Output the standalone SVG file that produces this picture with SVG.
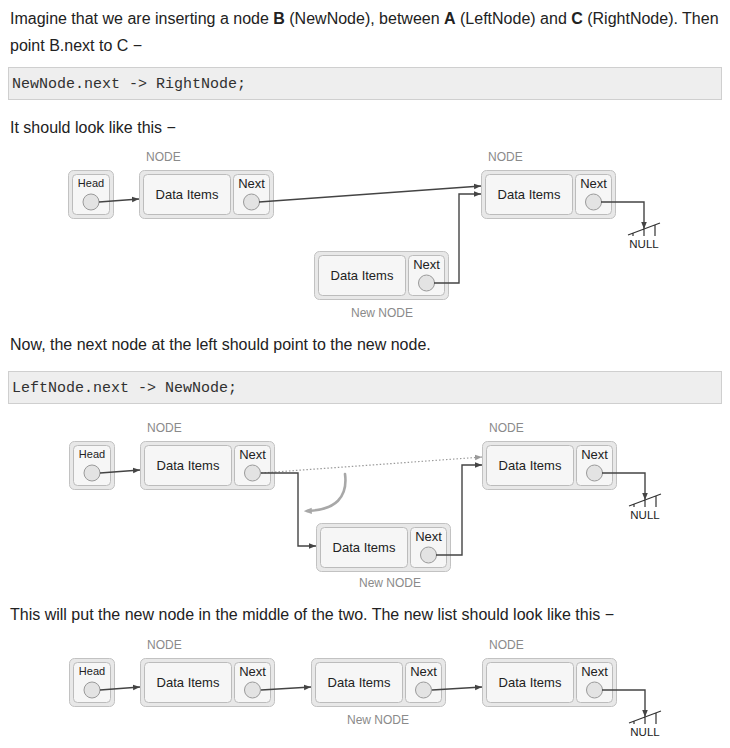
<svg xmlns="http://www.w3.org/2000/svg" width="730" height="748" viewBox="0 0 730 748">
<defs>
<style>
.p{font-family:"Liberation Sans",Arial,sans-serif;font-size:16px;fill:#222}
.code{font-family:"Liberation Mono","Courier New",monospace;font-size:15px;fill:#313131}
.cbox{fill:#eeeeee;stroke:#cfcfcf;stroke-width:1}
.outer{fill:#e8e8e8;stroke:#c2c2c2;stroke-width:1}
.inner{fill:#f6f6f6;stroke:#bcbcbc;stroke-width:1}
.dot{fill:#e3e3e3;stroke:#9a9a9a;stroke-width:1}
.t13{font-family:"Liberation Sans",Arial,sans-serif;font-size:13px;fill:#222;text-anchor:middle}
.t11{font-family:"Liberation Sans",Arial,sans-serif;font-size:11px;fill:#222;text-anchor:middle}
.lab{font-family:"Liberation Sans",Arial,sans-serif;font-size:12px;fill:#8a8a8a}
.null{font-family:"Liberation Sans",Arial,sans-serif;font-size:11.5px;fill:#222;text-anchor:middle}
.ln{fill:none;stroke:#444;stroke-width:1.4}
.dotted{fill:none;stroke:#9a9a9a;stroke-width:1.2;stroke-dasharray:1.5 2}
.gnd{fill:none;stroke:#333;stroke-width:1.2}
.curve{fill:none;stroke:#a8a8a8;stroke-width:2.6;stroke-linecap:round}
</style>
<marker id="ah" viewBox="0 0 10 10" refX="10" refY="5" markerWidth="7" markerHeight="7" markerUnits="userSpaceOnUse" orient="auto">
<path d="M0,1 L10,5 L0,9 Z" fill="#444"/>
</marker>
<marker id="ahg" viewBox="0 0 10 10" refX="10" refY="5" markerWidth="7" markerHeight="7" markerUnits="userSpaceOnUse" orient="auto">
<path d="M0,1 L10,5 L0,9 Z" fill="#9a9a9a"/>
</marker>
<marker id="ahc" viewBox="0 0 10 10" refX="6" refY="5" markerWidth="8" markerHeight="8" markerUnits="userSpaceOnUse" orient="auto">
<path d="M0,1 L10,5 L0,9 Z" fill="#a8a8a8"/>
</marker>
</defs>
<rect width="730" height="748" fill="#ffffff"/>

<g id="texts">
<text class="p" x="10" y="24">Imagine that we are inserting a node <tspan font-weight="bold">B</tspan> (NewNode), between <tspan font-weight="bold">A</tspan> (LeftNode) and <tspan font-weight="bold">C</tspan> (RightNode). Then</text>
<text class="p" x="10" y="51">point B.next to C −</text>
<rect class="cbox" x="8.5" y="67.5" width="713" height="32"/>
<text class="code" x="12" y="88">NewNode.next -&gt; RightNode;</text>
<text class="p" x="10" y="133">It should look like this −</text>
<text class="p" x="10" y="350">Now, the next node at the left should point to the new node.</text>
<rect class="cbox" x="8.5" y="371.5" width="713" height="32"/>
<text class="code" x="12" y="392">LeftNode.next -&gt; NewNode;</text>
<text class="p" x="10" y="620">This will put the new node in the middle of the two. The new list should look like this −</text>
</g>

<!-- Diagram 1 -->
<g id="d1-head" transform="translate(68,170)">
<rect class="outer" x="0.5" y="0.5" width="45" height="48" rx="5"/>
<rect class="inner" x="4.5" y="4.5" width="37" height="40" rx="4"/>
<text class="t11" x="23" y="17">Head</text>
<circle class="dot" cx="23" cy="32" r="8"/>
</g>
<g id="d1-left" transform="translate(139,170)">
<text class="lab" x="7" y="-9">NODE</text>
<rect class="outer" x="0.5" y="0.5" width="134" height="48" rx="5"/>
<rect class="inner" x="4.5" y="4.5" width="87" height="40" rx="4"/>
<rect class="inner" x="94.5" y="4.5" width="36" height="40" rx="4"/>
<text class="t13" x="48" y="28.5">Data Items</text>
<text class="t13" x="112.5" y="17.5">Next</text>
<circle class="dot" cx="112.5" cy="32" r="8"/>
</g>
<g id="d1-right" transform="translate(481,170)">
<text class="lab" x="7" y="-9">NODE</text>
<rect class="outer" x="0.5" y="0.5" width="134" height="48" rx="5"/>
<rect class="inner" x="4.5" y="4.5" width="87" height="40" rx="4"/>
<rect class="inner" x="94.5" y="4.5" width="36" height="40" rx="4"/>
<text class="t13" x="48" y="28.5">Data Items</text>
<text class="t13" x="112.5" y="17.5">Next</text>
<circle class="dot" cx="112.5" cy="32" r="8"/>
</g>
<g id="d1-new" transform="translate(314,251)">
<rect class="outer" x="0.5" y="0.5" width="134" height="48" rx="5"/>
<rect class="inner" x="4.5" y="4.5" width="87" height="40" rx="4"/>
<rect class="inner" x="94.5" y="4.5" width="36" height="40" rx="4"/>
<text class="t13" x="48" y="28.5">Data Items</text>
<text class="t13" x="112.5" y="17.5">Next</text>
<circle class="dot" cx="112.5" cy="32" r="8"/>
<text class="lab" x="68" y="66" text-anchor="middle">New NODE</text>
</g>
<g id="d1-null">
<path class="gnd" d="M628,235 L660,223 M633,233.1 V236 M644,229 V236 M655,224.9 V236"/>
<text class="null" x="644" y="248">NULL</text>
</g>

<!-- Diagram 2 -->
<g id="d2-head" transform="translate(69,441)">
<rect class="outer" x="0.5" y="0.5" width="45" height="48" rx="5"/>
<rect class="inner" x="4.5" y="4.5" width="37" height="40" rx="4"/>
<text class="t11" x="23" y="17">Head</text>
<circle class="dot" cx="23" cy="32" r="8"/>
</g>
<g id="d2-left" transform="translate(140,441)">
<text class="lab" x="7" y="-9">NODE</text>
<rect class="outer" x="0.5" y="0.5" width="134" height="48" rx="5"/>
<rect class="inner" x="4.5" y="4.5" width="87" height="40" rx="4"/>
<rect class="inner" x="94.5" y="4.5" width="36" height="40" rx="4"/>
<text class="t13" x="48" y="28.5">Data Items</text>
<text class="t13" x="112.5" y="17.5">Next</text>
<circle class="dot" cx="112.5" cy="32" r="8"/>
</g>
<g id="d2-right" transform="translate(482,441)">
<text class="lab" x="7" y="-9">NODE</text>
<rect class="outer" x="0.5" y="0.5" width="134" height="48" rx="5"/>
<rect class="inner" x="4.5" y="4.5" width="87" height="40" rx="4"/>
<rect class="inner" x="94.5" y="4.5" width="36" height="40" rx="4"/>
<text class="t13" x="48" y="28.5">Data Items</text>
<text class="t13" x="112.5" y="17.5">Next</text>
<circle class="dot" cx="112.5" cy="32" r="8"/>
</g>
<g id="d2-new" transform="translate(316,523)">
<rect class="outer" x="0.5" y="0.5" width="134" height="48" rx="5"/>
<rect class="inner" x="4.5" y="4.5" width="87" height="40" rx="4"/>
<rect class="inner" x="94.5" y="4.5" width="36" height="40" rx="4"/>
<text class="t13" x="48" y="28.5">Data Items</text>
<text class="t13" x="112.5" y="17.5">Next</text>
<circle class="dot" cx="112.5" cy="32" r="8"/>
<text class="lab" x="74" y="64" text-anchor="middle">New NODE</text>
</g>
<g id="d2-null">
<path class="gnd" d="M629,506 L661,494 M634,504.1 V507 M645,500 V507 M656,495.9 V507"/>
<text class="null" x="645" y="519">NULL</text>
</g>

<!-- Diagram 3 -->
<g id="d3-head" transform="translate(69,658)">
<rect class="outer" x="0.5" y="0.5" width="45" height="48" rx="5"/>
<rect class="inner" x="4.5" y="4.5" width="37" height="40" rx="4"/>
<text class="t11" x="23" y="17">Head</text>
<circle class="dot" cx="23" cy="32" r="8"/>
</g>
<g id="d3-left" transform="translate(140,658)">
<text class="lab" x="7" y="-9">NODE</text>
<rect class="outer" x="0.5" y="0.5" width="134" height="48" rx="5"/>
<rect class="inner" x="4.5" y="4.5" width="87" height="40" rx="4"/>
<rect class="inner" x="94.5" y="4.5" width="36" height="40" rx="4"/>
<text class="t13" x="48" y="28.5">Data Items</text>
<text class="t13" x="112.5" y="17.5">Next</text>
<circle class="dot" cx="112.5" cy="32" r="8"/>
</g>
<g id="d3-new" transform="translate(311,658)">
<rect class="outer" x="0.5" y="0.5" width="134" height="48" rx="5"/>
<rect class="inner" x="4.5" y="4.5" width="87" height="40" rx="4"/>
<rect class="inner" x="94.5" y="4.5" width="36" height="40" rx="4"/>
<text class="t13" x="48" y="28.5">Data Items</text>
<text class="t13" x="112.5" y="17.5">Next</text>
<circle class="dot" cx="112.5" cy="32" r="8"/>
<text class="lab" x="67" y="66" text-anchor="middle">New NODE</text>
</g>
<g id="d3-right" transform="translate(482,658)">
<text class="lab" x="7" y="-9">NODE</text>
<rect class="outer" x="0.5" y="0.5" width="134" height="48" rx="5"/>
<rect class="inner" x="4.5" y="4.5" width="87" height="40" rx="4"/>
<rect class="inner" x="94.5" y="4.5" width="36" height="40" rx="4"/>
<text class="t13" x="48" y="28.5">Data Items</text>
<text class="t13" x="112.5" y="17.5">Next</text>
<circle class="dot" cx="112.5" cy="32" r="8"/>
</g>
<g id="d3-null">
<path class="gnd" d="M629,723 L661,711 M634,721.1 V724 M645,717 V724 M656,712.9 V724"/>
<text class="null" x="645" y="736">NULL</text>
</g>

<g id="connectors">
<path class="ln" d="M99,202 L139,199" marker-end="url(#ah)"/>
<path class="ln" d="M259,202 L481,186" marker-end="url(#ah)"/>
<path class="ln" d="M434,283 L459,283 L459,194 L481,194" marker-end="url(#ah)"/>
<path class="ln" d="M601,202 L644,202 L644,229" marker-end="url(#ah)"/>
<path class="ln" d="M100,473 L140,470" marker-end="url(#ah)"/>
<path class="dotted" d="M261,473 L482,457" marker-end="url(#ahg)"/>
<path class="ln" d="M261,473 L298,473 L298,546 L316,546" marker-end="url(#ah)"/>
<path class="ln" d="M436,555 L462,555 L462,465 L482,465" marker-end="url(#ah)"/>
<path class="ln" d="M602,473 L645,473 L645,500" marker-end="url(#ah)"/>
<path class="curve" d="M345,474 C348,497 336,510 307,511" marker-end="url(#ahc)"/>
<path class="ln" d="M100,690 L140,687" marker-end="url(#ah)"/>
<path class="ln" d="M261,690 L311,687" marker-end="url(#ah)"/>
<path class="ln" d="M432,690 L482,687" marker-end="url(#ah)"/>
<path class="ln" d="M602,690 L645,690 L645,717" marker-end="url(#ah)"/>
</g>
</svg>
